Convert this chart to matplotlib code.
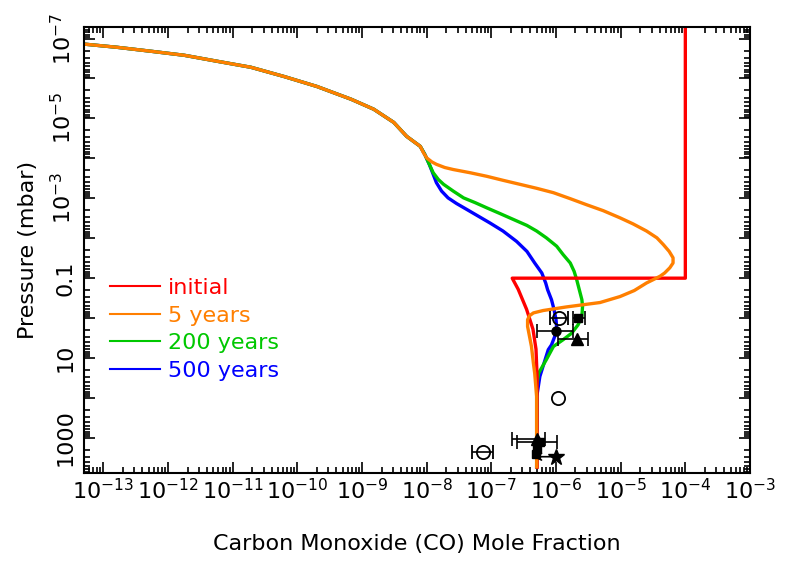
import numpy as np
import matplotlib.pyplot as plt
from matplotlib.ticker import LogLocator, NullFormatter

plt.rcParams['font.family'] = ['DejaVu Sans']

# --- model profiles, stored as log10(mole fraction) and log10(pressure / mbar) ---
# upper atmosphere: identical for every model time
log_co_top = np.array([-13.30, -12.79, -12.26, -11.75, -11.24, -10.72, -10.21,
                       -9.70, -9.17, -8.82, -8.51, -8.31, -8.10])
log_p_top = np.array([-6.86, -6.78, -6.68, -6.58, -6.43, -6.28, -6.05,
                      -5.80, -5.48, -5.23, -4.90, -4.55, -4.30])

# 5 years after impact
log_co_5yr = np.array([-8.05, -8.00, -7.92, -7.85, -7.72, -7.59, -7.33, -7.07, -6.82,
                       -6.56, -6.30, -6.04, -5.78, -5.53, -5.27, -5.01, -4.81, -4.60,
                       -4.44, -4.34, -4.25, -4.19, -4.19, -4.24, -4.32, -4.39, -4.50,
                       -4.60, -4.79, -5.01, -5.32, -5.84, -6.20, -6.35, -6.41, -6.44,
                       -6.44, -6.41, -6.38, -6.35, -6.33, -6.30, -6.30])
log_p_5yr = np.array([-4.14, -4.01, -3.91, -3.85, -3.77, -3.72, -3.64, -3.55, -3.45,
                      -3.35, -3.25, -3.14, -2.99, -2.84, -2.69, -2.51, -2.36, -2.18,
                      -2.01, -1.84, -1.67, -1.51, -1.38, -1.26, -1.13, -1.05, -0.96,
                      -0.88, -0.69, -0.54, -0.39, -0.28, -0.19, -0.13, -0.06, 0.04,
                      0.21, 0.46, 0.71, 1.13, 1.38, 1.96, 3.72])

# 200 years
log_co_200yr = np.array([-8.03, -7.96, -7.90, -7.82, -7.74, -7.59, -7.43, -7.25, -7.07,
                         -6.87, -6.66, -6.45, -6.30, -6.15, -5.99, -5.89, -5.78, -5.72,
                         -5.68, -5.64, -5.60, -5.59, -5.60, -5.66, -5.76, -5.89, -6.04,
                         -6.15, -6.27, -6.30, -6.30])
log_p_200yr = np.array([-4.10, -3.85, -3.64, -3.47, -3.35, -3.18, -3.01, -2.89, -2.76,
                        -2.62, -2.47, -2.32, -2.18, -2.01, -1.80, -1.59, -1.38, -1.17,
                        -0.96, -0.71, -0.46, -0.29, -0.04, 0.17, 0.38, 0.54, 0.71,
                        1.04, 1.38, 1.71, 3.72])

# 500 years
log_co_500yr = np.array([-8.03, -7.96, -7.90, -7.85, -7.77, -7.67, -7.54, -7.38, -7.20,
                         -7.02, -6.82, -6.61, -6.45, -6.33, -6.22, -6.16, -6.13, -6.07,
                         -6.03, -6.00, -5.99, -6.02, -6.07, -6.12, -6.25, -6.29, -6.30])
log_p_500yr = np.array([-4.10, -3.85, -3.60, -3.39, -3.18, -3.01, -2.87, -2.72, -2.55,
                        -2.38, -2.18, -1.92, -1.67, -1.38, -1.13, -0.88, -0.71, -0.46,
                        -0.21, 0.04, 0.25, 0.46, 0.67, 0.79, 1.46, 1.88, 3.72])

# initial profile (plain values)
co_init = [1e-4, 1e-4, 2.1e-7, 2.6e-7, 3.5e-7, 4.4e-7, 4.9e-7, 5.1e-7, 5.1e-7]
p_init = [1e-8, 0.1, 0.1, 0.19, 0.6, 1.9, 6.0, 30.0, 5400.0]

# --- observations ---
# open circles with error bars
obs_oc_co = [1.1e-6, 7.4e-8]
obs_oc_p = [0.98, 2200.0]
obs_oc_lo = [8.1e-7, 5.1e-8]
obs_oc_hi = [1.55e-6, 1.05e-7]
# open circle, no error bar
obs_o_co = [1.07e-6]
obs_o_p = [100.0]
# filled squares with error bars
obs_sq_co = [2.2e-6, 5.6e-7]
obs_sq_p = [1.0, 1300.0]
obs_sq_lo = [1.8e-6, 2.5e-7]
obs_sq_hi = [2.8e-6, 1.02e-6]
# filled squares, no error bar
obs_sq2_co = [5.1e-7, 4.9e-7]
obs_sq2_p = [1860.0, 2500.0]
# filled circle
obs_fc_co = [1.0e-6]
obs_fc_p = [2.1]
obs_fc_lo = [5.1e-7]
obs_fc_hi = [1.8e-6]
# filled triangles
obs_tri_co = [2.1e-6, 5.1e-7]
obs_tri_p = [3.4, 1050.0]
obs_tri_lo = [1.07e-6, 2.1e-7]
obs_tri_hi = [3.1e-6, 6.8e-7]
# star, upper limit
obs_star_co = 1.0e-6
obs_star_p = 2950.0
obs_star_lim = 4.4e-7

x_tick_exp = np.arange(-13, -2)
y_tick_exp = np.arange(-7, 4)
y_tick_text = {-7: r'$10^{-7}$', -5: r'$10^{-5}$', -3: r'$10^{-3}$',
               -1: '0.1', 1: '10', 3: '1000'}

RED = '#ff0000'
ORANGE = '#ff7f00'
GREEN = '#00c800'
BLUE = '#0000ff'
LW = 2.4

fig = plt.figure(figsize=(7.85, 5.61), dpi=100)
ax = fig.add_axes([0.1070, 0.1574, 0.8484, 0.7939])


def profile(log_co, log_p):
    co = 10.0 ** np.concatenate([log_co_top, log_co])
    p = 10.0 ** np.concatenate([log_p_top, log_p])
    return co, p


l500, = ax.plot(*profile(log_co_500yr, log_p_500yr), color=BLUE, lw=LW)
l200, = ax.plot(*profile(log_co_200yr, log_p_200yr), color=GREEN, lw=LW)
l0, = ax.plot(co_init, p_init, color=RED, lw=LW)
l5, = ax.plot(*profile(log_co_5yr, log_p_5yr), color=ORANGE, lw=LW)


def xerr(x, lo, hi):
    x = np.asarray(x)
    return [x - np.asarray(lo), np.asarray(hi) - x]


eb = dict(color='k', ecolor='k', elinewidth=1.2, capsize=5, capthick=1.2, ls='none')
ax.errorbar(obs_oc_co, obs_oc_p, xerr=xerr(obs_oc_co, obs_oc_lo, obs_oc_hi),
            fmt='o', ms=9.5, mfc='none', mec='k', mew=1.3, **eb)
ax.plot(obs_o_co, obs_o_p, 'o', ms=9.5, mfc='none', mec='k', mew=1.3)
ax.errorbar(obs_sq_co, obs_sq_p, xerr=xerr(obs_sq_co, obs_sq_lo, obs_sq_hi),
            fmt='s', ms=6, **eb)
ax.plot(obs_sq2_co, obs_sq2_p, 's', ms=6, color='k')
ax.errorbar(obs_fc_co, obs_fc_p, xerr=xerr(obs_fc_co, obs_fc_lo, obs_fc_hi),
            fmt='o', ms=6.5, **eb)
ax.errorbar(obs_tri_co, obs_tri_p, xerr=xerr(obs_tri_co, obs_tri_lo, obs_tri_hi),
            fmt='^', ms=8.5, **eb)
ax.plot(obs_star_co, obs_star_p, '*', ms=12, color='k')
ax.annotate('', xy=(obs_star_lim, obs_star_p), xytext=(obs_star_co, obs_star_p),
            arrowprops=dict(arrowstyle='->', lw=1.2, color='k',
                            shrinkA=0, shrinkB=0, mutation_scale=12))

# axes
ax.set_xscale('log')
ax.set_yscale('log')
ax.set_xlim(5e-14, 1e-3)
ax.set_ylim(10 ** 3.87, 10 ** -7.28)

ax.set_xticks(10.0 ** x_tick_exp, [r'$10^{%d}$' % e for e in x_tick_exp])
ax.set_yticks(10.0 ** y_tick_exp, [y_tick_text.get(e, '') for e in y_tick_exp],
              rotation=90, va='center')
ax.xaxis.set_minor_locator(LogLocator(base=10, subs=np.arange(2, 10), numticks=100))
ax.yaxis.set_minor_locator(LogLocator(base=10, subs=np.arange(2, 10), numticks=100))
ax.xaxis.set_minor_formatter(NullFormatter())
ax.yaxis.set_minor_formatter(NullFormatter())

ax.tick_params(which='both', direction='in', top=True, right=True, width=1.2)
ax.tick_params(which='major', length=8)
ax.tick_params(which='minor', length=4.5)
ax.tick_params(axis='x', labelsize=16, pad=4)
ax.tick_params(axis='y', labelsize=16, pad=6)
for s in ax.spines.values():
    s.set_linewidth(1.5)

ax.set_xlabel('Carbon Monoxide (CO) Mole Fraction', fontsize=16, labelpad=22)
ax.set_ylabel('Pressure (mbar)', fontsize=16, labelpad=9)

leg = ax.legend([l0, l5, l200, l500], ['initial', '5 years', '200 years', '500 years'],
                loc='upper left', bbox_to_anchor=(0.039, 0.437), frameon=False,
                fontsize=16, handlelength=2.25, handletextpad=0.36, labelspacing=0.34,
                borderpad=0, borderaxespad=0, labelcolor='linecolor')
for h in leg.get_lines():
    h.set_linewidth(1.5)

fig.savefig('out.png', dpi=100)
